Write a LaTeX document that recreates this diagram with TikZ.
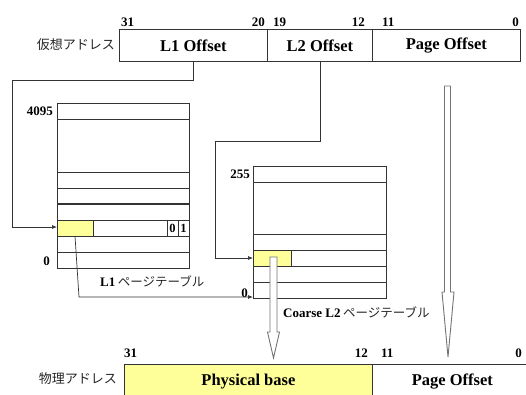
\documentclass[tikz,border=0pt]{standalone}
\usepackage{fontspec}
\setmainfont{Liberation Serif}
\newfontfamily\jp{Noto Sans CJK JP}
\usetikzlibrary{arrows.meta,calc}
\definecolor{hl}{HTML}{FFFF99}
\tikzset{
  fieldbox/.style={draw=black!80, line width=0.8pt, minimum height=32pt, inner sep=0pt, anchor=north west,
    font=\bfseries\fontsize{16.5}{16.5}\selectfont},
  bitnum/.style={font=\bfseries\fontsize{13}{13}\selectfont, inner sep=0pt},
  jlabel/.style={font=\jp\fontsize{13}{13}\selectfont, text=black!85, inner sep=0pt},
  tbl/.style={draw=black!80, line width=0.8pt},
  conn/.style={draw=black!80, line width=0.7pt},
  arr/.style={conn, -{Latex[length=5pt,width=4pt]}},
  hollow/.style={draw=black!55, fill=white, line width=0.9pt, line join=miter}
}
\begin{document}
\begin{tikzpicture}[x=1pt,y=-1pt]
\useasboundingbox (0,0) rectangle (526,394);

% virtual address
\node[fieldbox, minimum width=148pt] (l1) at (119,29) {L1 Offset};
\node[fieldbox, minimum width=105pt] (l2) at (267,29) {L2 Offset};
\node[fieldbox, minimum width=148pt] (po) at (372,29) {Page Offset};
\node[jlabel, anchor=east] (va) at (115,45) {仮想アドレス};
\node[bitnum, anchor=west] (b31) at (121,22) {31};
\node[bitnum, anchor=east] (b20) at (265,22) {20};
\node[bitnum, anchor=west] (b19) at (273,22) {19};
\node[bitnum, anchor=east] (b12) at (365,22) {12};
\node[bitnum, anchor=west] (b11) at (382,22) {11};
\node[bitnum, anchor=east] (b0) at (519,22) {0};

% L1 table
\fill[hl] (57,220) rectangle (93,236);
\draw[tbl] (57,103) rectangle (189,268);
\foreach \yy in {119,172,188,220,236,252} \draw[tbl] (57,\yy) -- (189,\yy);
\draw[tbl, line width=1.5pt] (57,204) -- (189,204);
\draw[tbl] (93,220) -- (93,236);
\draw[tbl] (167,220) -- (167,236);
\draw[tbl] (178,220) -- (178,236);
\node[bitnum, font=\bfseries\fontsize{12.5}{12.5}\selectfont] (c0) at (172.5,228) {0};
\node[bitnum, font=\bfseries\fontsize{12.5}{12.5}\selectfont] (c1) at (183.5,228) {1};
\node[bitnum, anchor=east] (n4095) at (53,111) {4095};
\node[bitnum, anchor=east] (n0a) at (50,261) {0};
\node[anchor=west, inner sep=0pt] (l1lab) at (100,281) {{\bfseries\fontsize{13}{13}\selectfont L1} {\jp\fontsize{12.5}{13}\selectfont\color{black!85}ページテーブル}};

% L2 table
\fill[hl] (253,250) rectangle (291,266);
\draw[tbl] (253,166) rectangle (386,298);
\foreach \yy in {182,234,250,266,282} \draw[tbl] (253,\yy) -- (386,\yy);
\draw[tbl] (291,250) -- (291,266);
\node[bitnum, anchor=east] (n255) at (250,174) {255};
\node[bitnum, anchor=east] (n0b) at (248,293) {0};
\node[anchor=west, inner sep=0pt] (l2lab) at (283,312) {{\bfseries\fontsize{13}{13}\selectfont Coarse L2} {\jp\fontsize{12.5}{13}\selectfont\color{black!85}ページテーブル}};

% physical address
\node[fieldbox, minimum width=248pt, minimum height=34pt, fill=hl] (pb) at (124,364) {Physical base};
\node[fieldbox, minimum width=160pt, minimum height=34pt] (ppo) at (372,364) {Page Offset};
\node[jlabel, anchor=east] (pa) at (117,379) {物理アドレス};
\node[bitnum, anchor=west] (p31) at (124,353) {31};
\node[bitnum, anchor=east] (p12) at (368,353) {12};
\node[bitnum, anchor=west] (p11) at (381,353) {11};
\node[bitnum, anchor=east] (p0) at (522,353) {0};

% connectors
\coordinate (k1) at (12,80);
\coordinate (l1in) at (57,227);
\draw[arr] (l1.south) |- (k1) |- (l1in);
\coordinate (k2) at (215,141);
\coordinate (l2in) at (253,258);
\draw[arr] (l2.south) |- (k2) |- (l2in);
\coordinate (y1) at (75,236);
\coordinate (k3) at (79,297);
\coordinate (l2bot) at (253,297);
\draw[arr] (y1) -- (k3) -- (l2bot);

% hollow arrows
\coordinate (h1) at (447.5,86);
\coordinate (h1t) at (448,357);
\draw[hollow] ($(h1)+(-3,0)$) -- ($(h1)+(3,0)$) -- (450.5,292) -- (454,292) -- (h1t) -- (442,292) -- (444.5,292) -- cycle;
\coordinate (h2) at (273.5,257);
\coordinate (h2t) at (273.5,358);
\draw[hollow] ($(h2)+(-3.5,0)$) -- ($(h2)+(3.5,0)$) -- (277,332) -- (279.5,332) -- (h2t) -- (267.5,332) -- (270,332) -- cycle;
\end{tikzpicture}
\end{document}
